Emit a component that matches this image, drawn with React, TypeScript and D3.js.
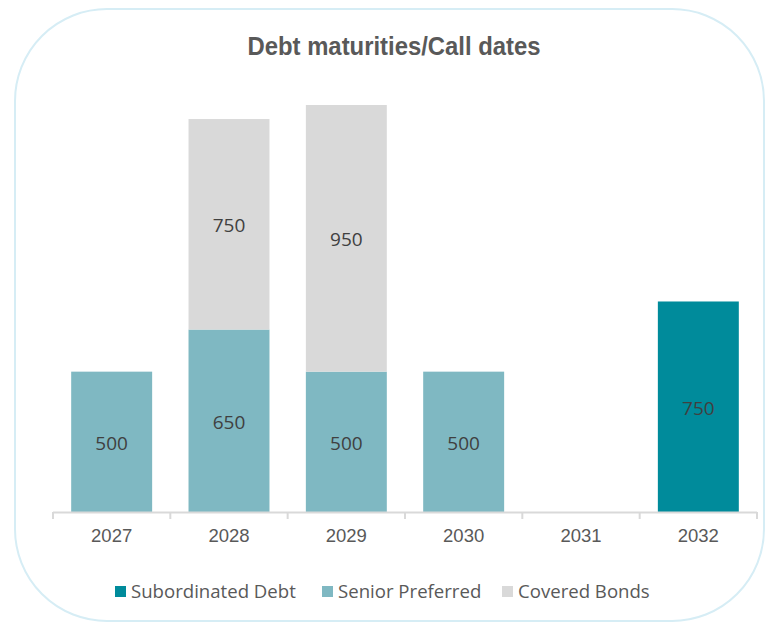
import React from "react";
import * as d3 from "d3";

const years = ["2027", "2028", "2029", "2030", "2031", "2032"];
const subordinated = [0, 0, 0, 0, 0, 750];
const seniorPreferred = [500, 650, 500, 500, 0, 0];
const coveredBonds = [0, 750, 950, 0, 0, 0];
const seriesNames = ["Subordinated Debt", "Senior Preferred", "Covered Bonds"];
const seriesColors = ["#008b9b", "#7fb8c2", "#d9d9d9"];

const W = 767;
const H = 625;

export default function App() {
  const x = d3.scaleBand().domain(years).range([53, 757]).paddingInner(0.31).paddingOuter(0.155);
  const y = d3.scaleLinear().domain([0, 1450]).range([512, 105]);

  const rows = years.map((yr, i) => ({
    year: yr,
    "Senior Preferred": seniorPreferred[i],
    "Covered Bonds": coveredBonds[i],
    "Subordinated Debt": subordinated[i],
  }));
  const stack = d3.stack<any>().keys(["Senior Preferred", "Covered Bonds", "Subordinated Debt"]);
  const layers = stack(rows);

  const start = 53;
  const tickXs = d3.range(years.length + 1).map((i) => start + i * (704 / years.length));

  const legendItems = [
    { name: seriesNames[0], color: seriesColors[0], x: 115 },
    { name: seriesNames[1], color: seriesColors[1], x: 322 },
    { name: seriesNames[2], color: seriesColors[2], x: 502 },
  ];
  const colorOf = (k: string) => seriesColors[seriesNames.indexOf(k)];

  return (
    <svg width={W} height={H} style={{ position: "absolute", left: 0, top: 0, background: "#fff" }}>
      <rect x={15} y={9} width={749} height={612} rx={92} ry={92} fill="#fff" stroke="#d6edf5" strokeWidth={2} />
      <text
        x={394}
        y={55}
        textAnchor="middle"
        fontFamily="Liberation Sans, Arial, sans-serif"
        fontWeight="bold"
        fontSize={26}
        fill="#595959"
        textLength={293}
        lengthAdjust="spacingAndGlyphs"
      >
        Debt maturities/Call dates
      </text>
      {layers.map((layer) => (
        <g key={layer.key}>
          {layer.map((d, i) => {
            const v = d[1] - d[0];
            if (v <= 0) return null;
            const bx = x(years[i])!;
            const bw = x.bandwidth();
            const y0 = y(d[0]);
            const y1 = y(d[1]);
            return (
              <g key={i}>
                <rect x={bx} y={y1} width={bw} height={y0 - y1} fill={colorOf(layer.key as string)} />
                <text
                  x={bx + bw / 2}
                  y={(y0 + y1) / 2 + 8}
                  textAnchor="middle"
                  fontFamily="Open Sans, sans-serif"
                  fontSize={19}
                  fill="#404040"
                >
                  {v}
                </text>
              </g>
            );
          })}
        </g>
      ))}
      <line x1={53} x2={757} y1={512.5} y2={512.5} stroke="#d9d9d9" strokeWidth={2} />
      {tickXs.map((tx, i) => (
        <line key={i} x1={tx} x2={tx} y1={512} y2={519} stroke="#d9d9d9" strokeWidth={2} />
      ))}
      {years.map((yr) => (
        <text
          key={yr}
          x={x(yr)! + x.bandwidth() / 2}
          y={541.5}
          textAnchor="middle"
          fontFamily="Liberation Sans, Arial, sans-serif"
          fontSize={18.5}
          fill="#595959"
        >
          {yr}
        </text>
      ))}
      {legendItems.map((it) => (
        <g key={it.name}>
          <rect x={it.x} y={586} width={11} height={11} fill={it.color} />
          <text x={it.x + 16} y={597.5} fontFamily="Open Sans, sans-serif" fontSize={18.6} fill="#595959">
            {it.name}
          </text>
        </g>
      ))}
    </svg>
  );
}
